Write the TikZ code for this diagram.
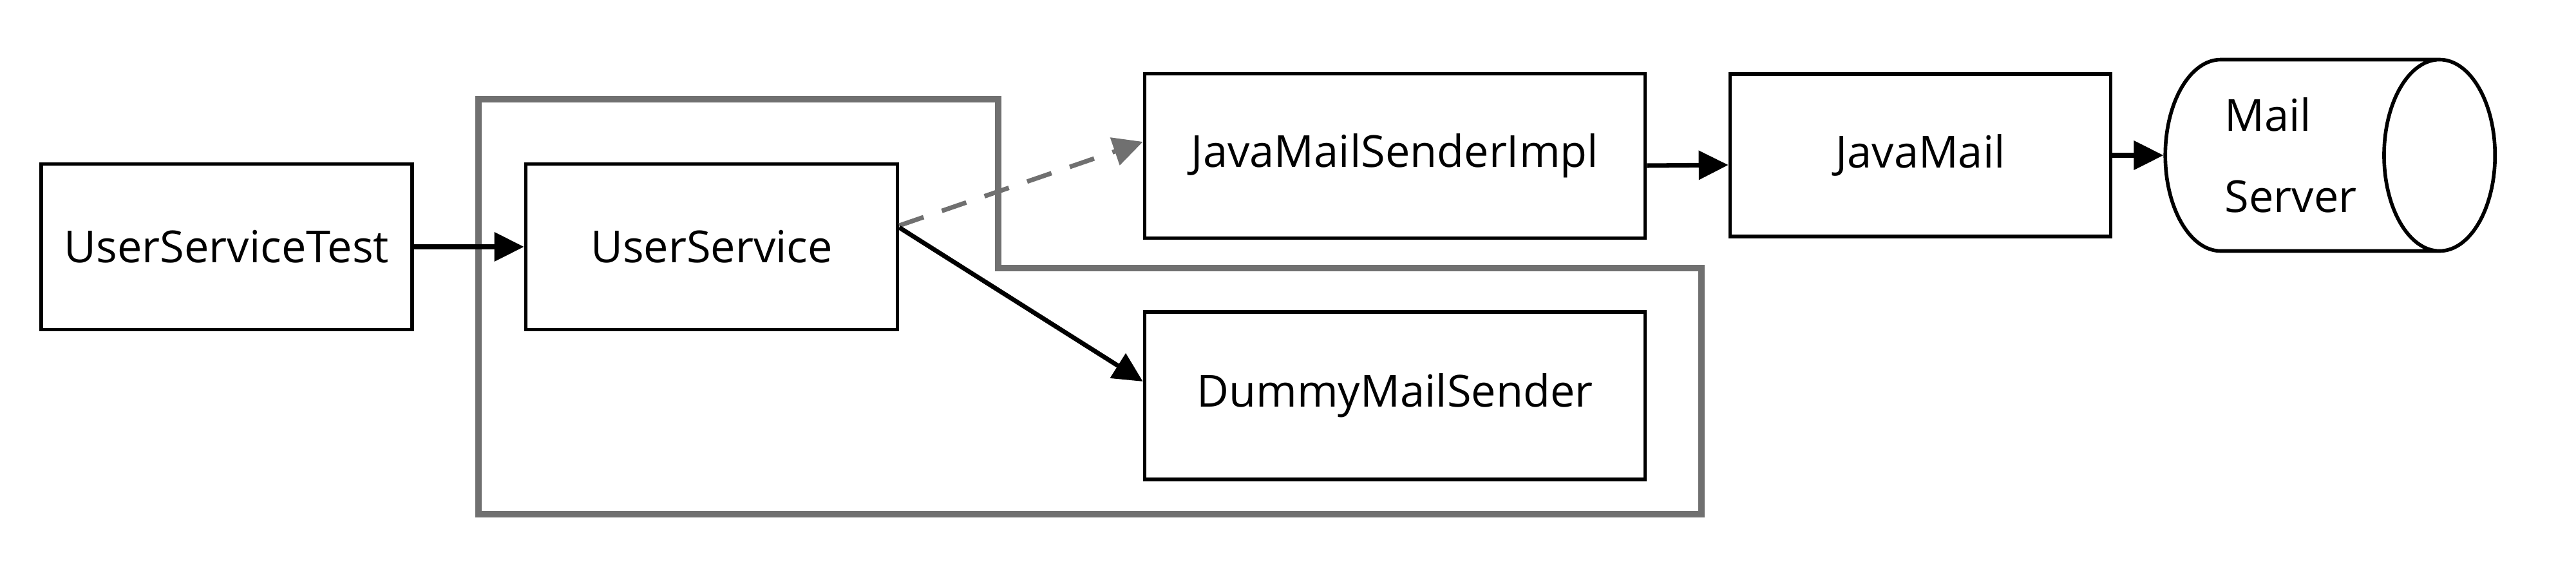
\documentclass[tikz,border=0pt]{standalone}
\usepackage{fontspec}
\setmainfont{Open Sans}
\usepackage{tikz}
\usetikzlibrary{arrows.meta,shapes.geometric}
\definecolor{framegray}{RGB}{112,112,112}

\begin{document}
\begin{tikzpicture}[
    comp/.style={draw, line width=1.6pt, font=\fontsize{19.5}{24}\selectfont},
    store/.style={draw, line width=1.6pt, cylinder, shape border rotate=0, aspect=0.85,
                  align=left, font=\fontsize{19.5}{36}\selectfont},
    link/.style={-{Triangle[length=4.6mm,width=4.4mm]}, line width=2pt},
    mock/.style={link, framegray, dash pattern=on 4mm off 3mm}
]
\useasboundingbox (0,0) rectangle (40,8.82);

% Boundary round the service under test
\draw[framegray, line width=2.6pt] (7.43,7.28) -- (15.5,7.28) -- (15.5,4.66)
     -- (26.42,4.66) -- (26.42,0.84) -- (7.43,0.84) -- cycle;

% Components
\node[comp, minimum width=5.76cm, minimum height=2.57cm] (test) at (3.52,4.99) {UserServiceTest};
\node[comp, minimum width=5.77cm, minimum height=2.57cm] (svc)  at (11.05,4.99) {UserService};
\node[comp, minimum width=7.77cm, minimum height=2.55cm] (impl) at (21.66,6.40) {JavaMailSenderImpl};
\node[comp, minimum width=7.77cm, minimum height=2.60cm] (dummy) at (21.66,2.68) {DummyMailSender};
\node[comp, minimum width=5.91cm, minimum height=2.52cm] (jmail) at (29.82,6.41) {JavaMail};
\node[store, minimum width=2.97cm, minimum height=5.12cm] (server) at (35.57,6.41) {Mail\\Server};

% Calls
\draw[link] (test) -- (svc);
\draw[mock] ([yshift=3.3mm]svc.east) -- ([yshift=2.2mm]impl.west);
\draw[link] ([yshift=3.0mm]svc.east) -- ([yshift=2.2mm]dummy.west);
\draw[link] ([yshift=-1.5mm]impl.east) -- ([yshift=-1.5mm]jmail.west);
\draw[link] (jmail) -- (server);
\end{tikzpicture}
\end{document}
